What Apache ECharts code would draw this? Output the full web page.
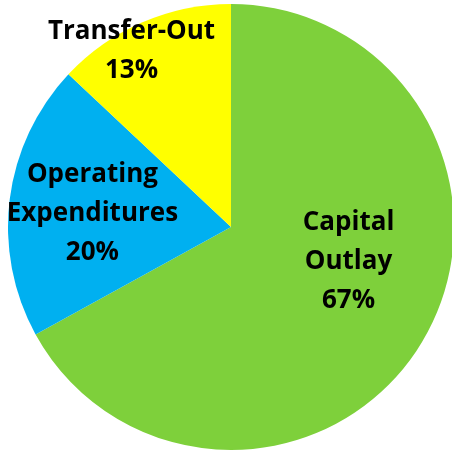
<!DOCTYPE html>
<html>
<head>
<meta charset="utf-8">
<script src="https://cdn.jsdelivr.net/npm/echarts@6/dist/echarts.min.js"></script>
<style>
  html, body { margin: 0; padding: 0; background: #fff; }
  #chart { width: 452px; height: 451px; }
</style>
</head>
<body>
<div id="chart"></div>
<script>
var categories = ['Capital\nOutlay', 'Operating\nExpenditures', 'Transfer-Out'];
var shares = [67, 20, 13];
var sliceColors = ['#7ED03B', '#00B0F0', '#FFFF00'];
// nudges from the default inside label spot
var labelNudge = [[19, -24], [-25, 1], [-54, -71]];

var myChart = echarts.init(document.getElementById('chart'));

var pieData = categories.map(function (name, i) {
    return {
        name: name,
        value: shares[i],
        itemStyle: { color: sliceColors[i] },
        label: { offset: labelNudge[i] }
    };
});

var option = {
    animation: false,
    series: [{
        type: 'pie',
        center: [231, 227],
        radius: 223,
        startAngle: 90,
        clockwise: true,
        data: pieData,
        itemStyle: { borderWidth: 0 },
        label: {
            show: true,
            position: 'inside',
            formatter: function (p) { return p.name + '\n' + p.value + '%'; },
            fontFamily: 'Open Sans',
            fontWeight: 'bold',
            fontSize: 26,
            lineHeight: 39,
            color: '#000',
            align: 'center'
        },
        labelLine: { show: false },
        emphasis: { disabled: true }
    }]
};
myChart.setOption(option);
</script>
</body>
</html>
